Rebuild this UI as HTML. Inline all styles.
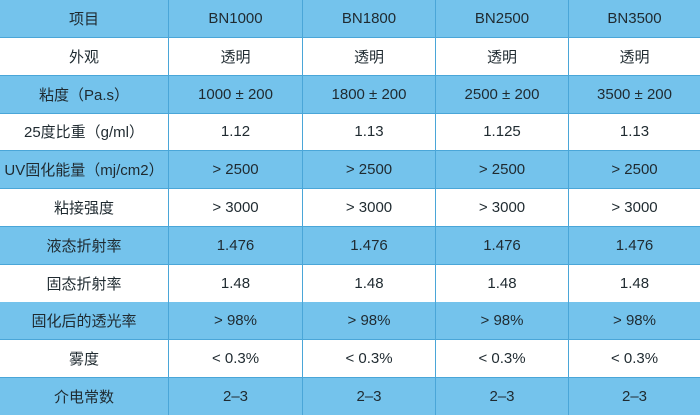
<!DOCTYPE html>
<html><head><meta charset="utf-8"><style>
html,body{margin:0;padding:0;background:#fff}
#t{position:relative;width:700px;height:415px;overflow:hidden;font-family:"Liberation Sans","Noto Sans CJK SC",sans-serif;color:#1f2a30;font-size:15px}
.r{position:absolute;left:0;width:700px;height:38px;border-bottom:1px solid #4aa6d8;box-sizing:border-box}
.b{background:#74c3ec}
.c{position:absolute;top:0;height:100%;display:flex;align-items:center;justify-content:center;border-left:1px solid #4aa6d8;box-sizing:border-box}
</style></head><body><div id="t">
<script>
const rows=[["项目","BN1000","BN1800","BN2500","BN3500"],["外观","透明","透明","透明","透明"],["粘度（Pa.s）","1000 ± 200","1800 ± 200","2500 ± 200","3500 ± 200"],["25度比重（g/ml）","1.12","1.13","1.125","1.13"],["UV固化能量（mj/cm2）","> 2500","> 2500","> 2500","> 2500"],["粘接强度","> 3000","> 3000","> 3000","> 3000"],["液态折射率","1.476","1.476","1.476","1.476"],["固态折射率","1.48","1.48","1.48","1.48"],["固化后的透光率","> 98%","> 98%","> 98%","> 98%"],["雾度","< 0.3%","< 0.3%","< 0.3%","< 0.3%"],["介电常数","2–3","2–3","2–3","2–3"]];
const xs=[0,168,302,435,568,700];let h="";
rows.forEach((r,i)=>{h+=`<div class="r ${i%2==0?'b':''}" style="top:${(i*37.8).toFixed(1)}px">`;
r.forEach((c,j)=>{h+=`<div class="c" style="left:${xs[j]}px;width:${xs[j+1]-xs[j]}px;${j==0?'border-left:none':''}">${c.replace(/</g,'&lt;')}</div>`});h+="</div>"});
document.getElementById("t").innerHTML=h;
</script></div></body></html>
